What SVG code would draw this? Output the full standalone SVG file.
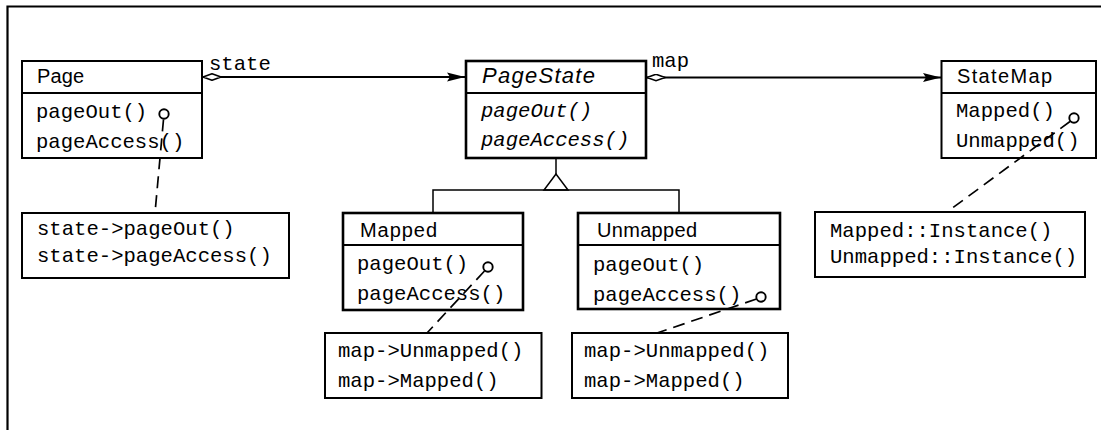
<svg xmlns="http://www.w3.org/2000/svg" width="1101" height="430" viewBox="0 0 1101 430">
  <style>
    .box { fill: #fff; stroke: #000; stroke-width: 2; }
    .cls { fill: #fff; stroke: #000; stroke-width: 2.6; }
    .div { stroke: #000; stroke-width: 2; }
    .name { font-family: "Liberation Sans", Arial, sans-serif; font-size: 20px; fill: #000; }
    .iname { font-family: "Liberation Sans", Arial, sans-serif; font-size: 22px; font-style: italic; fill: #000; }
    .op { font-family: "Liberation Mono", "Courier New", monospace; font-size: 20.6px; fill: #000; }
    .iop { font-family: "Liberation Mono", "Courier New", monospace; font-size: 20.6px; font-style: italic; fill: #000; }
    .assoc { fill: none; stroke: #000; stroke-width: 1.8; }
    .inh { fill: none; stroke: #000; stroke-width: 1.5; }
    .note-link { fill: none; stroke: #000; stroke-width: 1.7; stroke-dasharray: 12 7; }
    .pin { fill: #fff; stroke: #000; stroke-width: 1.9; }
  </style>
  <defs>
    <marker id="arrow" viewBox="0 0 18 10" refX="18" refY="5" markerWidth="18" markerHeight="10" markerUnits="userSpaceOnUse" orient="auto">
      <path d="M0,0.5 L18,5 L0,9.5 L3,5 Z" fill="#000"/>
    </marker>
    <marker id="diamond" viewBox="0 0 20 8" refX="0" refY="4" markerWidth="20" markerHeight="8" markerUnits="userSpaceOnUse" orient="auto">
      <path d="M1,4 L10,0.7 L19,4 L10,7.3 Z" fill="#fff" stroke="#000" stroke-width="1.5"/>
    </marker>
  </defs>

  <rect width="1101" height="430" fill="#fff"/>

  <!-- frame -->
  <path d="M7.5,430 V6.5 H1101" fill="none" stroke="#000" stroke-width="2.2"/>

  <g id="page">
    <rect class="box" x="22" y="61" width="180" height="97"/>
    <line class="div" x1="22" y1="93" x2="202" y2="93"/>
    <text class="name" x="37" y="83" textLength="47">Page</text>
    <text class="op" x="36" y="118">pageOut()</text>
    <text class="op" x="36" y="148">pageAccess()</text>
  </g>

  <g id="pageState">
    <rect class="cls" x="466" y="61" width="180" height="97"/>
    <line class="div" x1="466" y1="93" x2="646" y2="93"/>
    <text class="iname" x="482" y="83" textLength="113">PageState</text>
    <text class="iop" x="481" y="117">pageOut()</text>
    <text class="iop" x="481" y="146">pageAccess()</text>
  </g>

  <g id="stateMap">
    <rect class="box" x="941.5" y="61" width="154.5" height="97"/>
    <line class="div" x1="941.5" y1="93" x2="1096" y2="93"/>
    <text class="name" x="957" y="83" textLength="95">StateMap</text>
    <text class="op" x="956" y="117">Mapped()</text>
    <text class="op" x="956" y="147">Unmapped()</text>
  </g>

  <g id="mapped">
    <rect class="cls" x="343" y="213" width="180" height="97"/>
    <line class="div" x1="343" y1="245" x2="523" y2="245"/>
    <text class="name" x="360" y="237" textLength="77">Mapped</text>
    <text class="op" x="357" y="270">pageOut()</text>
    <text class="op" x="357" y="300">pageAccess()</text>
  </g>

  <g id="unmapped">
    <rect class="cls" x="578" y="213" width="202" height="96"/>
    <line class="div" x1="578" y1="245" x2="780" y2="245"/>
    <text class="name" x="597" y="237" textLength="100">Unmapped</text>
    <text class="op" x="593" y="271">pageOut()</text>
    <text class="op" x="593" y="301">pageAccess()</text>
  </g>

  <g id="note-page">
    <rect class="box" x="22" y="213" width="267" height="65"/>
    <text class="op" x="37" y="235">state-&gt;pageOut()</text>
    <text class="op" x="37" y="262">state-&gt;pageAccess()</text>
  </g>

  <g id="note-mapped">
    <rect class="box" x="325" y="333" width="216.5" height="65"/>
    <text class="op" x="338" y="357">map-&gt;Unmapped()</text>
    <text class="op" x="338" y="387">map-&gt;Mapped()</text>
  </g>

  <g id="note-unmapped">
    <rect class="box" x="572" y="333" width="216" height="65"/>
    <text class="op" x="584" y="357">map-&gt;Unmapped()</text>
    <text class="op" x="584" y="387">map-&gt;Mapped()</text>
  </g>

  <g id="note-stateMap">
    <rect class="box" x="815" y="212" width="270" height="65"/>
    <text class="op" x="830" y="237">Mapped::Instance()</text>
    <text class="op" x="830" y="263">Unmapped::Instance()</text>
  </g>

  <!-- connectors, drawn on top of the class boxes -->
  <g id="connectors">
    <path class="assoc" d="M202,77 H465" marker-start="url(#diamond)" marker-end="url(#arrow)"/>
    <text class="op" x="209" y="70">state</text>
    <path class="assoc" d="M646,77.5 H941" marker-start="url(#diamond)" marker-end="url(#arrow)"/>
    <text class="op" x="652" y="67">map</text>

    <!-- generalization -->
    <path class="inh" d="M556,158 V174"/>
    <path class="inh" d="M556,174 L544,190 H568 Z" fill="#fff"/>
    <path class="inh" d="M433,213 V190 H679 V213"/>

    <!-- implementation notes -->
    <path class="note-link" d="M163.5,119.5 L155,213"/>
    <circle class="pin" cx="164" cy="114" r="4.7"/>
    <path class="note-link" d="M484.5,271 L427,333"/>
    <circle class="pin" cx="488" cy="267" r="4.7"/>
    <path class="note-link" d="M756.5,299 L657,333"/>
    <circle class="pin" cx="761" cy="297" r="4.7"/>
    <path class="note-link" d="M1070,121.5 L947,212"/>
    <circle class="pin" cx="1074" cy="118" r="4.7"/>
  </g>
</svg>
